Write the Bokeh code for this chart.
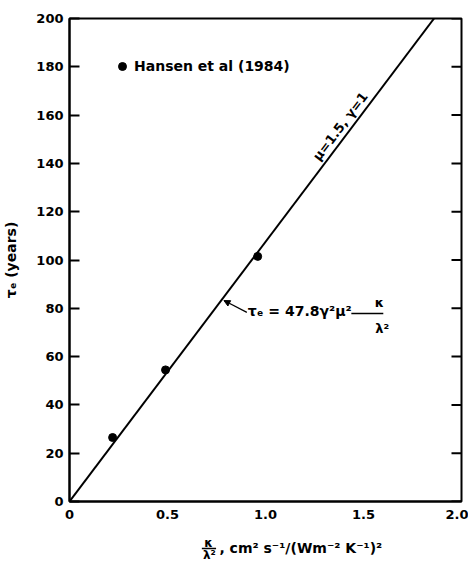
from bokeh.plotting import figure
from bokeh.layouts import column
from bokeh.models import (Range1d, FixedTicker, Label, Arrow, NormalHead,
                          Legend, LegendItem)
from bokeh.embed import file_html
from bokeh.resources import INLINE
import math

# ---- data ----
hansen_x = [0.22, 0.49, 0.96]
hansen_y = [26.5, 54.5, 101.5]
model_x = [0.0, 1.86]          # tau_e = 47.8 * gamma^2 * mu^2 * kappa/lambda^2, mu=1.5, gamma=1
model_y = [0.0, 200.0]
x_ticks = [0, 0.5, 1.0, 1.5, 2.0]
x_tick_labels = ["0", "0.5", "1.0", "1.5", "2.0"]
y_ticks = [0, 20, 40, 60, 80, 100, 120, 140, 160, 180, 200]
legend_label = "Hansen et al (1984)"

FONT = "DejaVu Sans"
INK = "black"
X0, X1 = 0, 2.0
Y0, Y1 = 0, 200

p = figure(width=468, height=530, output_backend="svg", toolbar_location=None,
           x_range=Range1d(X0, X1), y_range=Range1d(Y0, Y1),
           min_border_left=68, min_border_right=7, min_border_top=18, min_border_bottom=29)
p.grid.visible = False
p.outline_line_color = INK
p.outline_line_width = 2
p.background_fill_color = "white"
p.border_fill_color = "white"

# bottom axis
xa = p.xaxis[0]
xa.ticker = FixedTicker(ticks=x_ticks)
xa.major_label_overrides = {t: l for t, l in zip(x_ticks, x_tick_labels)}
xa.major_tick_in = 0
xa.major_tick_out = 0
xa.minor_tick_in = 0
xa.minor_tick_out = 0
xa.axis_line_width = 2
xa.axis_line_color = INK
xa.major_label_standoff = 8
xa.major_label_text_font = FONT
xa.major_label_text_font_style = "bold"
xa.major_label_text_font_size = "13px"
xa.major_label_text_color = INK

# left axis
ya = p.yaxis[0]
ya.ticker = FixedTicker(ticks=y_ticks)
ya.major_tick_in = 10
ya.major_tick_out = 0
ya.minor_tick_in = 0
ya.minor_tick_out = 0
ya.major_tick_line_width = 2
ya.major_tick_line_color = INK
ya.axis_line_width = 2
ya.axis_line_color = INK
ya.major_label_standoff = 6
ya.major_label_text_font = FONT
ya.major_label_text_font_style = "bold"
ya.major_label_text_font_size = "13px"
ya.major_label_text_color = INK
ya.axis_label = "τₑ (years)"
ya.axis_label_text_font = FONT
ya.axis_label_text_font_style = "bold"
ya.axis_label_text_font_size = "14px"
ya.axis_label_text_color = INK
ya.axis_label_standoff = 14

# right-side inward ticks
p.ray(x=[X1] * len(y_ticks), y=y_ticks, length=10, length_units="screen",
      angle=math.pi, line_color=INK, line_width=2)

# model line
p.line(model_x, model_y, line_color=INK, line_width=2)

# data points
pts = p.scatter(hansen_x, hansen_y, size=8, fill_color=INK, line_color=INK)

legend = Legend(items=[LegendItem(label=legend_label, renderers=[pts])],
                location=(43, 425), border_line_color=None, background_fill_alpha=0,
                padding=0, margin=0, glyph_width=20, glyph_height=20, label_standoff=2,
                label_text_font=FONT, label_text_font_style="bold", label_text_color=INK,
                label_text_font_size="14px", label_height=14)
p.add_layout(legend)

def lab(fig, x, y, text, size, align="left", angle=0):
    fig.add_layout(Label(x=x, y=y, text=text, angle=angle, angle_units="deg",
                         text_align=align, text_baseline="middle", text_font=FONT,
                         text_font_style="bold", text_font_size=size, text_color=INK))

# line label
lab(p, 1.382, 155.3, "μ=1.5, γ=1", "13px", "center", 52.9)

# formula annotation
lab(p, 0.91, 78.7, "τₑ = 47.8γ²μ²", "14px")
lab(p, 1.581, 82.3, "κ", "13px", "center")
lab(p, 1.596, 71.6, "λ²", "13px", "center")
p.segment(x0=[1.438], y0=[77.8], x1=[1.601], y1=[77.8], line_color=INK, line_width=1.5)
p.add_layout(Arrow(x_start=0.905, y_start=78.3, x_end=0.788, y_end=83.2,
                   line_color=INK, line_width=1.2,
                   end=NormalHead(size=6, fill_color=INK, line_color=INK)))

# x axis title strip (stacked fraction + units), pixel coordinates
q = figure(width=468, height=35, output_backend="svg", toolbar_location=None,
           x_range=Range1d(0, 468), y_range=Range1d(0, 35),
           min_border=0, min_border_left=0, min_border_right=0,
           min_border_top=0, min_border_bottom=0)
q.axis.visible = False
q.grid.visible = False
q.outline_line_color = None
q.background_fill_color = "white"
q.border_fill_color = "white"
lab(q, 166, 23, "κ", "12px", "center")
lab(q, 167, 11, "λ²", "12px", "center")
q.segment(x0=[158], y0=[17], x1=[175], y1=[17], line_color=INK, line_width=1.5)
lab(q, 179, 18, ", cm² s⁻¹/(Wm⁻² K⁻¹)²", "14px")

layout = column(p, q, spacing=0)
open("out.html", "w").write(file_html(layout, INLINE))
